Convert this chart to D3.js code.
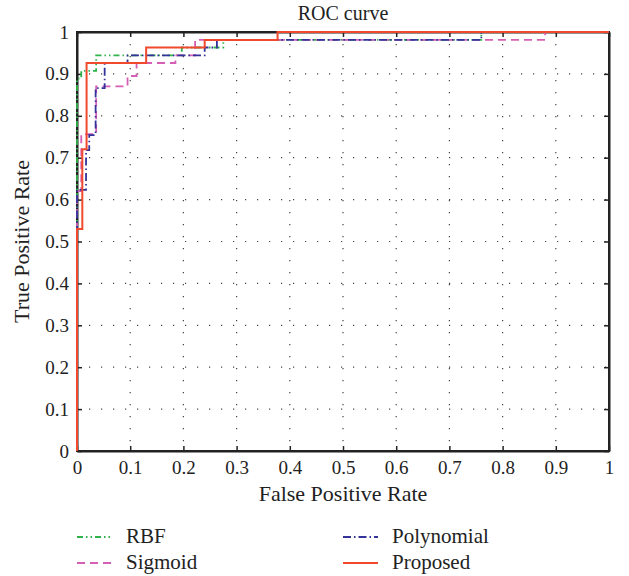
<!DOCTYPE html>
<html><head><meta charset="utf-8">
<script src="https://cdn.jsdelivr.net/npm/d3@7"></script>
<style>body{margin:0;background:#fff}svg{display:block}</style>
</head><body><svg id="c" width="629" height="576"></svg>
<script>
const ticks = [0,0.1,0.2,0.3,0.4,0.5,0.6,0.7,0.8,0.9,1];
const tickLabels = ["0","0.1","0.2","0.3","0.4","0.5","0.6","0.7","0.8","0.9","1"];
const rbfFpr  = [0,0,0.008,0.008,0.036,0.036,0.197,0.197,0.275,0.275,0.76,0.76,1];
const rbfTpr  = [0,0.889,0.889,0.907,0.907,0.944,0.944,0.963,0.963,0.981,0.981,1,1];
const polyFpr = [0,0,0.017,0.017,0.023,0.023,0.035,0.035,0.052,0.052,0.095,0.095,0.24,0.24,0.263,0.263,0.76,0.76,1];
const polyTpr = [0,0.623,0.623,0.718,0.718,0.754,0.754,0.866,0.866,0.926,0.926,0.944,0.944,0.963,0.963,0.981,0.981,1,1];
const sigFpr  = [0,0,0.008,0.008,0.036,0.036,0.095,0.095,0.112,0.112,0.185,0.185,0.222,0.222,0.88,0.88,1];
const sigTpr  = [0,0.62,0.62,0.756,0.756,0.87,0.87,0.895,0.895,0.926,0.926,0.944,0.944,0.981,0.981,1,1];
const propFpr = [0,0,0.01,0.01,0.018,0.018,0.13,0.13,0.24,0.24,0.377,0.377,1];
const propTpr = [0,0.53,0.53,0.72,0.72,0.926,0.926,0.963,0.963,0.981,0.981,1,1];
const seriesNames = ["RBF","Sigmoid","Polynomial","Proposed"];

const FONT = "'Liberation Serif','Times New Roman',Times,'DejaVu Serif','Noto Serif',serif";

const series = [
  {name:"RBF", fpr:rbfFpr, tpr:rbfTpr, color:"#30b34a", dash:"6,3,1.5,3,1.5,3"},
  {name:"Sigmoid", fpr:sigFpr, tpr:sigTpr, color:"#d45fb4", dash:"8,5"},
  {name:"Polynomial", fpr:polyFpr, tpr:polyTpr, color:"#33339a", dash:"8,3,1.5,3"},
  {name:"Proposed", fpr:propFpr, tpr:propTpr, color:"#f0492d", dash:null}
];

const svg = d3.select("#c");
const L=77,R=609,T=32,B=451;
const x = d3.scaleLinear().domain([0,1]).range([L,R]);
const y = d3.scaleLinear().domain([0,1]).range([B,T]);

// grid
const g = svg.append("g");
ticks.slice(1,-1).forEach(t=>{
  g.append("line").attr("x1",x(t)).attr("x2",x(t)).attr("y1",T).attr("y2",B)
   .attr("stroke","#444").attr("stroke-width",1.2).attr("stroke-dasharray","1.2,10.8");
  g.append("line").attr("x1",L).attr("x2",R).attr("y1",y(t)).attr("y2",y(t))
   .attr("stroke","#444").attr("stroke-width",1.2).attr("stroke-dasharray","1.2,10.8");
});

// axes
const fmt = (d,i)=>tickLabels[i];
svg.append("g").attr("transform",`translate(0,${B})`)
  .call(d3.axisBottom(x).tickValues(ticks).tickFormat(fmt).tickSizeInner(-5).tickSizeOuter(0).tickPadding(10));
svg.append("g").attr("transform",`translate(0,${T})`)
  .call(d3.axisTop(x).tickValues(ticks).tickFormat("").tickSizeInner(-5).tickSizeOuter(0));
svg.append("g").attr("transform",`translate(${L},0)`)
  .call(d3.axisLeft(y).tickValues(ticks).tickFormat(fmt).tickSizeInner(-5).tickSizeOuter(0).tickPadding(8));
svg.append("g").attr("transform",`translate(${R},0)`)
  .call(d3.axisRight(y).tickValues(ticks).tickFormat("").tickSizeInner(-5).tickSizeOuter(0));
svg.selectAll(".domain").attr("stroke","#222").attr("stroke-width",2);
svg.selectAll(".tick line").attr("stroke","#222").attr("stroke-width",1.5);
svg.selectAll(".tick text").style("font-family",FONT).style("font-size","19px").attr("fill","#222");
svg.append("rect").attr("x",L).attr("y",T).attr("width",R-L).attr("height",B-T)
  .attr("fill","none").attr("stroke","#222").attr("stroke-width",2);

// lines
const line = d3.line().x(d=>x(d[0])).y(d=>y(d[1]));
series.forEach(s=>{
  const pts = s.fpr.map((f,i)=>[f,s.tpr[i]]);
  const p = svg.append("path").attr("d",line(pts)).attr("fill","none")
    .attr("stroke",s.color).attr("stroke-width",s.name==="Proposed"?2:1.8);
  if(s.dash) p.attr("stroke-dasharray",s.dash);
});

function txt(sel, size){ return sel.style("font-family",FONT).style("font-size",size+"px").attr("fill","#222"); }

// titles
txt(svg.append("text").attr("x",(L+R)/2).attr("y",20).attr("text-anchor","middle"),20).text("ROC curve");
txt(svg.append("text").attr("x",(L+R)/2).attr("y",501).attr("text-anchor","middle"),22).text("False Positive Rate");
txt(svg.append("text").attr("transform",`translate(29,${(T+B)/2}) rotate(-90)`).attr("text-anchor","middle"),22).text("True Positive Rate");

// legend
const legPos = {"RBF":[77,537],"Polynomial":[343,537],"Sigmoid":[77,563],"Proposed":[343,563]};
series.forEach(s=>{
  const [lx,ly] = legPos[s.name];
  const l = svg.append("line").attr("x1",lx).attr("x2",lx+35).attr("y1",ly).attr("y2",ly)
    .attr("stroke",s.color).attr("stroke-width",1.8);
  if(s.dash) l.attr("stroke-dasharray",s.dash);
  txt(svg.append("text").attr("x",lx+49).attr("y",ly+6),21).text(s.name);
});
</script></body></html>
